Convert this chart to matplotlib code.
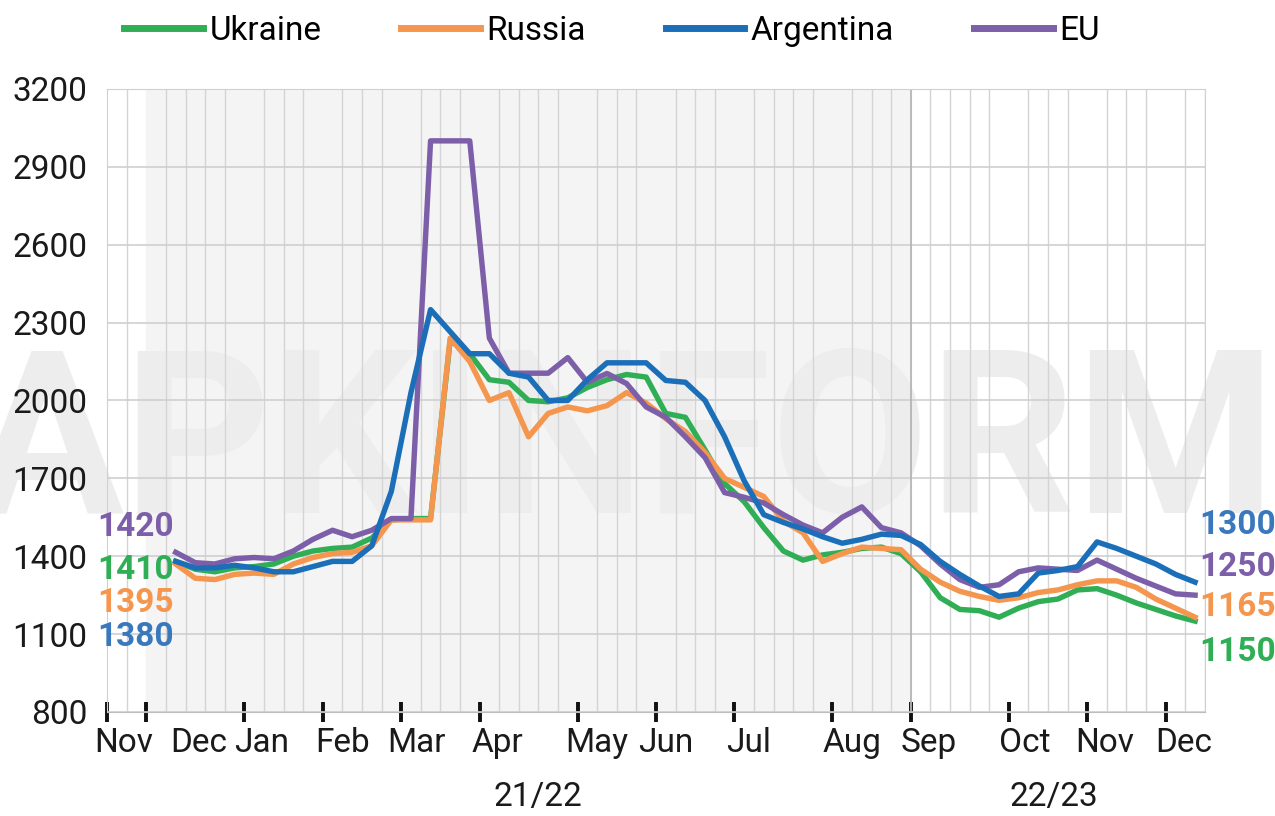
import matplotlib.pyplot as plt
import matplotlib.transforms as mtransforms
import numpy as np

plt.rcParams['font.family'] = ['Roboto', 'DejaVu Sans']

# weekly categories: first data point sits in week 3, last in week 55
week_index = np.arange(3, 56)

ukraine = [1380, 1350, 1340, 1355, 1360, 1370, 1400, 1420, 1430, 1435,
           1470, 1540, 1545, 1545, 2230, 2180, 2080, 2070, 2000, 1995,
           2010, 2050, 2080, 2100, 2090, 1950, 1935, 1810, 1680, 1610,
           1510, 1420, 1385, 1405, 1415, 1430, 1435, 1410, 1340, 1240,
           1195, 1190, 1165, 1200, 1225, 1235, 1270, 1275, 1250, 1220,
           1195, 1170, 1150]
russia = [1370, 1315, 1310, 1330, 1335, 1330, 1370, 1395, 1410, 1415,
          1440, 1540, 1540, 1540, 2240, 2150, 2000, 2030, 1860, 1950,
          1975, 1960, 1980, 2030, 1990, 1930, 1880, 1800, 1700, 1665,
          1630, 1535, 1490, 1380, 1410, 1435, 1430, 1425, 1350, 1300,
          1265, 1245, 1230, 1240, 1260, 1270, 1290, 1305, 1305, 1280,
          1235, 1200, 1165]
argentina = [1380, 1355, 1355, 1365, 1355, 1340, 1340, 1360, 1380, 1380,
             1440, 1650, 2030, 2350, 2265, 2180, 2180, 2105, 2090, 2000,
             2000, 2080, 2145, 2145, 2145, 2077, 2070, 2000, 1860, 1690,
             1560, 1530, 1505, 1475, 1450, 1465, 1485, 1480, 1445, 1380,
             1330, 1285, 1245, 1255, 1335, 1345, 1360, 1455, 1430, 1400,
             1370, 1330, 1300]
eu = [1415, 1375, 1370, 1390, 1395, 1390, 1420, 1465, 1500, 1475,
      1500, 1545, 1545, 3000, 3000, 3000, 2240, 2105, 2105, 2105,
      2165, 2070, 2104, 2065, 1975, 1935, 1860, 1780, 1645, 1627,
      1605, 1560, 1520, 1490, 1550, 1590, 1510, 1490, 1440, 1370,
      1310, 1280, 1290, 1340, 1355, 1350, 1345, 1385, 1350, 1315,
      1285, 1255, 1250]

start_labels = ['1420', '1410', '1395', '1380']   # EU, Ukraine, Russia, Argentina
end_labels = ['1300', '1250', '1165', '1150']     # Argentina, EU, Russia, Ukraine

month_names = ['Nov', 'Dec', 'Jan', 'Feb', 'Mar', 'Apr', 'May', 'Jun',
               'Jul', 'Aug', 'Sep', 'Oct', 'Nov', 'Dec']
month_starts = [0, 2, 7, 11, 15, 19, 24, 28, 32, 37, 41, 46, 50, 54]
month_label_x = [0.85, 4.7, 7.9, 12.0, 15.8, 19.9, 25.0, 28.5,
                 32.7, 38.0, 41.9, 46.8, 50.9, 54.9]
seasons = ['21/22', '22/23']
season_x = [22.0, 48.3]

GREEN = '#2fae55'
ORANGE = '#f5964e'
BLUE = '#1b6fb8'
PURPLE = '#7c5fa8'

fig = plt.figure(figsize=(12.75, 8.16), dpi=100)
ax = fig.add_axes([0.084, 0.1275, 0.861, 0.7635])

x = week_index + 0.5
ax.plot(x, ukraine, color=GREEN, lw=3.9, label='Ukraine', zorder=3, solid_joinstyle='round')
ax.plot(x, russia, color=ORANGE, lw=3.9, label='Russia', zorder=4, solid_joinstyle='round')
ax.plot(x, argentina, color=BLUE, lw=3.9, label='Argentina', zorder=6, solid_joinstyle='round')
ax.plot(x, eu, color=PURPLE, lw=3.9, label='EU', zorder=5, solid_joinstyle='round')

ax.set_xlim(0, 56)
ax.set_ylim(800, 3200)

# season 21/22 background and divider
ax.axvspan(2, 41, color='#f4f4f4', zorder=0)
ax.axvline(41, color='#b5b5b5', lw=1.3, zorder=1)

# watermark
ax.text(0.47, 0.42, 'APKINFORM', transform=ax.transAxes, ha='center', va='center',
        fontsize=165, fontweight='bold', color='#ededed', zorder=0.3, clip_on=False)

ax.set_yticks(np.arange(800, 3201, 300))
ax.tick_params(axis='y', length=0, labelsize=24, pad=14, labelcolor='#1a1a1a')
ax.grid(axis='y', color='#cfcfcf', lw=1.2)

ax.set_xticks(month_starts)
ax.set_xticklabels([])
ax.tick_params(axis='x', which='major', direction='inout', length=14, width=2.8, color='#111111')
ax.set_xticks(np.arange(0, 57), minor=True)
ax.tick_params(axis='x', which='minor', length=0)
ax.grid(axis='x', which='minor', color='#d4d4d4', lw=1.0)
ax.set_axisbelow(True)

for side in ['left', 'top', 'right']:
    ax.spines[side].set_color('#d0d0d0')
ax.spines['bottom'].set_color('#bdbdbd')

blend = mtransforms.blended_transform_factory(ax.transData, ax.transAxes)
for xpos, name in zip(month_label_x, month_names):
    ax.text(xpos, -0.05, name, transform=blend, ha='center', va='center',
            fontsize=24, color='#1a1a1a')
for xpos, name in zip(season_x, seasons):
    ax.text(xpos, -0.137, name, transform=blend, ha='center', va='center',
            fontsize=24, color='#1a1a1a')

# end value labels
for txt, y, c in zip(start_labels, [1511, 1346, 1219, 1088], [PURPLE, GREEN, ORANGE, '#3a78bd']):
    ax.text(3.4, y, txt, ha='right', va='center', fontsize=24, fontweight='bold',
            color=c, zorder=7)
for txt, y, c in zip(end_labels, [1519, 1358, 1204, 1031], ['#3a78bd', PURPLE, ORANGE, GREEN]):
    ax.text(55.7, y, txt, ha='left', va='center', fontsize=24, fontweight='bold',
            color=c, zorder=7, clip_on=False)

leg = fig.legend(loc='center', bbox_to_anchor=(0.48, 0.962), ncol=4, frameon=False,
                 fontsize=24, handlelength=2.35, handletextpad=0.2, columnspacing=2.4)
for line in leg.get_lines():
    line.set_linewidth(5)

fig.savefig('out.png', dpi=100)
